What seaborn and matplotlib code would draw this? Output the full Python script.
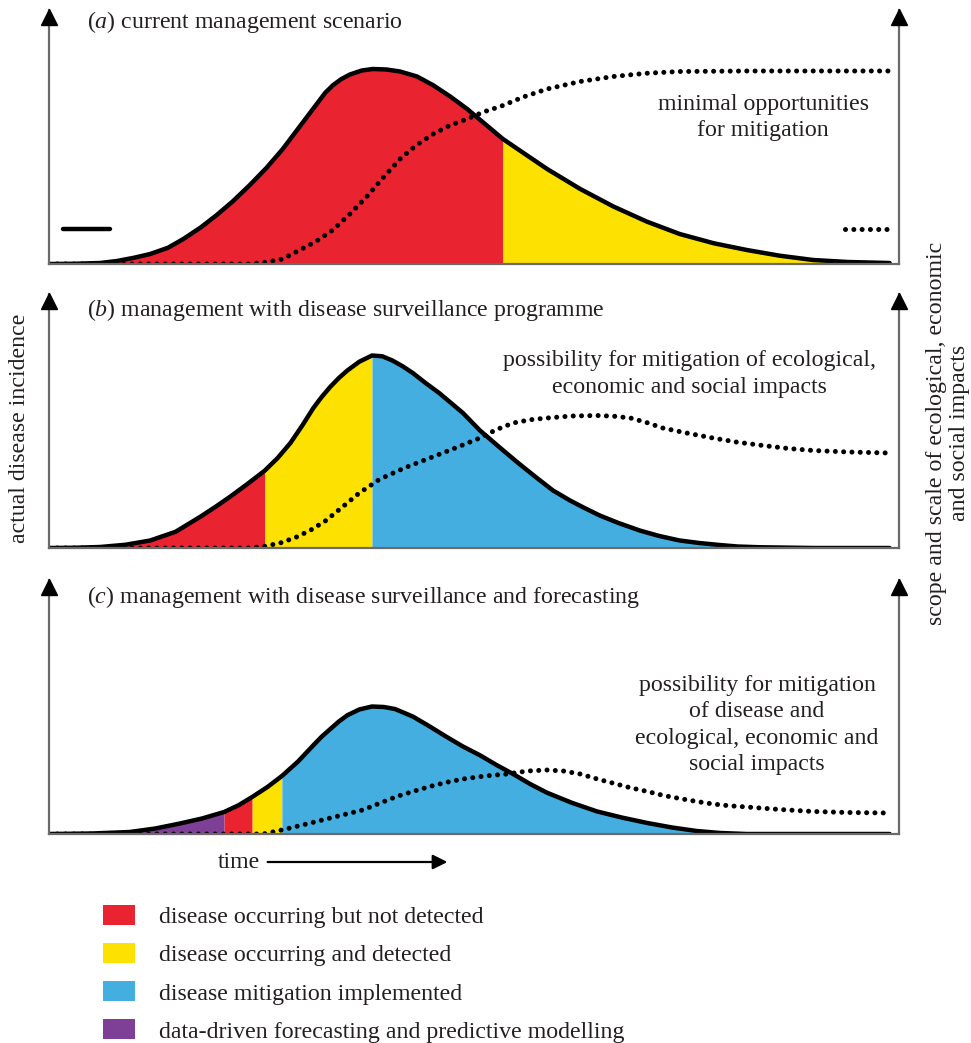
import numpy as np
import matplotlib
matplotlib.use('Agg')
import matplotlib.pyplot as plt
from matplotlib.patches import Patch
import seaborn as sns

# ---------------------------data-------------------------------------
# time axis runs 0..100, levels run 0..~100 (arbitrary units)

# (a) current management scenario
a_t = np.array([0, 3, 6, 8, 10, 11.9, 14, 15.8, 17.8, 19.7, 21.6, 23.6, 25.6, 27.5, 29.5,
                31.5, 32.5, 33.4, 34.4, 35.4, 36.8, 38.1, 39.7, 41.3, 43.3, 45.2, 47.2,
                49.2, 51.3, 53.4, 56, 58.6, 62.5, 66.4, 70.3, 74.2, 78.2, 82.1, 86, 89.9,
                94, 98.9])
a_inc = np.array([0, 0.1, 0.4, 1.2, 2.5, 4, 6.5, 10, 14.5, 19.5, 25, 31.5, 38.5, 46, 55,
                  64, 68.5, 71.5, 74, 75.8, 77.4, 78, 77.8, 77, 75, 71.5, 67,
                  62, 56, 50, 44, 38, 30, 23, 17, 12, 8.3, 5.6, 3.3, 1.6,
                  0.8, 0.4])
a_imp_t = np.array([0, 23.6, 25.5, 27.5, 29.5, 31.4, 33.4, 35.4, 37.4, 39.3, 41.3, 43.2,
                    45.2, 47.2, 49.2, 51.1, 53.1, 55.8, 58.6, 62.5, 66.4, 70.3, 74.2,
                    82.1, 90, 98.9])
a_imp = np.array([0, 0, 0.7, 2, 5.6, 9, 13.6, 20, 27, 34.5, 42, 47.5,
                  52, 55.5, 58, 60.8, 63, 66.8, 70, 73, 75, 76.3, 77,
                  77.2, 77.2, 77.2])
a_phases = [(0, 53.4, 'red'), (53.4, 98.9, 'yellow')]

# (b) management with disease surveillance programme
b_t = np.array([0, 3, 6, 9, 11.9, 14.9, 17.8, 19.6, 21.3, 23.3, 25.4, 26.9, 28.4, 29.8,
                31.1, 32.1, 33.1, 34.1, 35.1, 36.5, 38, 39.2, 40.4, 41.6, 42.8, 44.3,
                45.9, 47.3, 48.7, 50.7, 53.1, 55.2, 57.4, 59.3, 61.3, 63, 64.8, 67,
                69.5, 71.8, 74.2, 76.5, 78.9, 81, 83.6, 90, 98.9])
b_inc = np.array([0, 0.1, 0.4, 1.3, 3, 6.5, 12.5, 16.5, 20.5, 25.5, 31, 36, 42, 49,
                  56, 60.5, 64.5, 68, 71, 74.5, 77, 76.7, 75, 72.7, 70, 66,
                  62, 58, 54, 47, 40, 34, 28, 23, 19, 16, 13, 10,
                  7, 4.8, 3, 2, 1.2, 0.6, 0.3, 0, 0])
b_imp_t = np.array([0, 23.6, 25.4, 27.2, 29, 30.7, 32.5, 34.2, 36.5, 38.9, 41.8, 44.8,
                    47.8, 50.7, 52.6, 54.6, 56.6, 58.6, 61.5, 64.5, 66.5, 68.4, 70.3,
                    72.2, 75, 78.1, 81, 84, 87, 89.9, 94, 98.9])
b_imp = np.array([0, 0, 0.7, 2, 4.2, 7, 10.8, 15.5, 22, 27.5, 32, 36,
                  40, 44, 47.3, 50, 51.3, 52, 52.8, 53, 52.7, 52, 50.2,
                  48, 46, 44, 42.3, 41, 39.8, 39, 38.4, 38])
b_phases = [(0, 25.4, 'red'), (25.4, 38, 'yellow'), (38, 98.9, 'blue')]

# (c) management with disease surveillance and forecasting
c_t = np.array([0, 5, 9.5, 12.5, 15.4, 18, 20.6, 22.3, 23.9, 25.7, 27.4, 29.3, 31.1,
                32.1, 33.1, 34.1, 35.1, 36.5, 38, 39.4, 40.7, 42.8, 44.8, 46.7, 48.7,
                50.7, 52.6, 54.6, 56.6, 58.6, 61.5, 64.5, 67.5, 70.4, 73.3, 76.2, 79,
                82.1, 98.9])
c_inc = np.array([0, 0.2, 0.8, 2.2, 4.2, 6.2, 8.8, 11.5, 14.8, 18.8, 23.2, 29, 35.5,
                  39, 42, 45, 47.5, 49.8, 51, 50.8, 50, 47, 43, 39, 35,
                  31.5, 27.7, 24, 20, 16.5, 12.5, 9, 6.5, 4.4, 2.6, 1.2, 0.4,
                  0, 0])
c_imp_t = np.array([0, 25.2, 27.4, 30.3, 33.1, 35, 36.9, 38.9, 40.9, 42.8, 44.8, 46.8,
                    48.7, 51.3, 53.9, 56.3, 58.6, 60.5, 62.5, 64.5, 66.4, 68.4, 70.4,
                    72.3, 74.2, 76.2, 78.1, 80, 82.1, 86, 89.9, 94, 98.9])
c_imp = np.array([0, 0, 1.6, 4, 6.4, 8, 9.6, 12.3, 15, 17, 19, 20.7,
                  22, 23.2, 24, 25.2, 25.6, 25.2, 24, 22, 20.3, 18.5, 17,
                  15.4, 14.2, 13, 12, 11.3, 10.8, 9.8, 9, 8.6, 8.4])
c_phases = [(0, 20.6, 'purple'), (20.6, 23.9, 'red'), (23.9, 27.4, 'yellow'), (27.4, 98.9, 'blue')]

titles = ['($a$) current management scenario',
          '($b$) management with disease surveillance programme',
          '($c$) management with disease surveillance and forecasting']
title_level = [96.8, 95.2, 94.8]
notes = ['minimal opportunities\nfor mitigation',
         'possibility for mitigation of ecological,\neconomic and social impacts',
         'possibility for mitigation\nof disease and\necological, economic and\nsocial impacts']
note_pos = [(84, 58.6), (75.4, 69.6), (83.3, 43.6)]

legend_labels = ['disease occurring but not detected',
                 'disease occurring and detected',
                 'disease mitigation implemented',
                 'data-driven forecasting and predictive modelling']
legend_keys = ['red', 'yellow', 'blue', 'purple']

# small key marks in panel (a)
key_solid_t = [1.6, 7.2]
key_dot_t = [93.6, 98.6]
key_level = [14, 14]
# --------------------------------------------------------------------

colors = {'red': '#EA2330', 'yellow': '#FDE100', 'blue': '#44AEE0', 'purple': '#7E3F97'}

sns.set_style('white')
plt.rcParams['font.family'] = ['Liberation Serif', 'DejaVu Serif']
plt.rcParams['mathtext.fontset'] = 'custom'
plt.rcParams['mathtext.rm'] = 'Liberation Serif'
plt.rcParams['mathtext.it'] = 'Liberation Serif:italic'

FS = 17.2
TXT = '#231F20'
W, H = 971, 1043
fig = plt.figure(figsize=(W / 100, H / 100), dpi=100)

dots = dict(linestyle=(0, (0.01, 1.65)), dash_capstyle='round', linewidth=3.6, color='black')
solid = dict(color='black', linewidth=3.2, solid_capstyle='round', solid_joinstyle='round')

panels = [(a_t, a_inc, a_imp_t, a_imp, a_phases, 264),
          (b_t, b_inc, b_imp_t, b_imp, b_phases, 548),
          (c_t, c_inc, c_imp_t, c_imp, c_phases, 834)]

axes = []
for i, (t, inc, it, imp, phases, base_px) in enumerate(panels):
    ax = fig.add_axes([49 / W, 1 - base_px / H, 850 / W, 254 / H])
    axes.append(ax)
    ax.set_xlim(0, 100)
    ax.set_ylim(0, 101.6)
    ax.set_xticks([])
    ax.set_yticks([])
    ax.patch.set_alpha(0)
    for side in ['left', 'right', 'bottom']:
        ax.spines[side].set_color('#6a6a6a')
        ax.spines[side].set_linewidth(1.6)
    ax.spines['top'].set_visible(False)
    # arrow heads on both vertical axes
    ax.plot([0, 1], [0.972, 0.972], transform=ax.transAxes, marker='^', ms=12,
            color='black', ls='none', clip_on=False, zorder=5)

    for lo, hi, key in phases:
        ax.fill_between(t, 0, inc, where=(t >= lo) & (t <= hi), color=colors[key], lw=0)

    sns.lineplot(x=it, y=imp, ax=ax, estimator=None, sort=False, **dots)
    sns.lineplot(x=t, y=inc, ax=ax, estimator=None, sort=False, **solid)

    ax.text(4.5, title_level[i], titles[i], fontsize=FS, color=TXT, va='center', ha='left')
    ax.text(note_pos[i][0], note_pos[i][1], notes[i], fontsize=FS, color=TXT, va='center',
            ha='center', multialignment='center', linespacing=1.33)

# key marks in (a)
sns.lineplot(x=key_solid_t, y=key_level, ax=axes[0], estimator=None, **solid)
sns.lineplot(x=key_dot_t, y=key_level, ax=axes[0], estimator=None, **dots)

# time arrow under (c)
axes[2].text(24.8, -11.2, 'time', fontsize=FS, color=TXT, ha='right', va='center')
axes[2].annotate('', xy=(47.2, -11.2), xytext=(25.4, -11.2), xycoords='data',
                 arrowprops=dict(arrowstyle='-|>', color='black', lw=1.6,
                                 mutation_scale=22), annotation_clip=False)

# axis labels
fig.text(20 / W, 1 - 428 / H, 'actual disease incidence', rotation=90, fontsize=FS,
         color=TXT, ha='center', va='center')
fig.text(948 / W, 1 - 433 / H, 'scope and scale of ecological, economic\nand social impacts',
         rotation=90, fontsize=FS, color=TXT, ha='center', va='center',
         multialignment='center', linespacing=1.07)

# legend
handles = [Patch(facecolor=colors[k], edgecolor='none') for k in legend_keys]
fig.legend(handles, legend_labels, loc='upper left', bbox_to_anchor=(103 / W, 1 - 905 / H),
           frameon=False, fontsize=FS, handlelength=1.35, handleheight=0.92,
           handletextpad=1.0, labelspacing=0.62, borderpad=0, borderaxespad=0,
           labelcolor=TXT)

plt.savefig('out.png', dpi=100)
